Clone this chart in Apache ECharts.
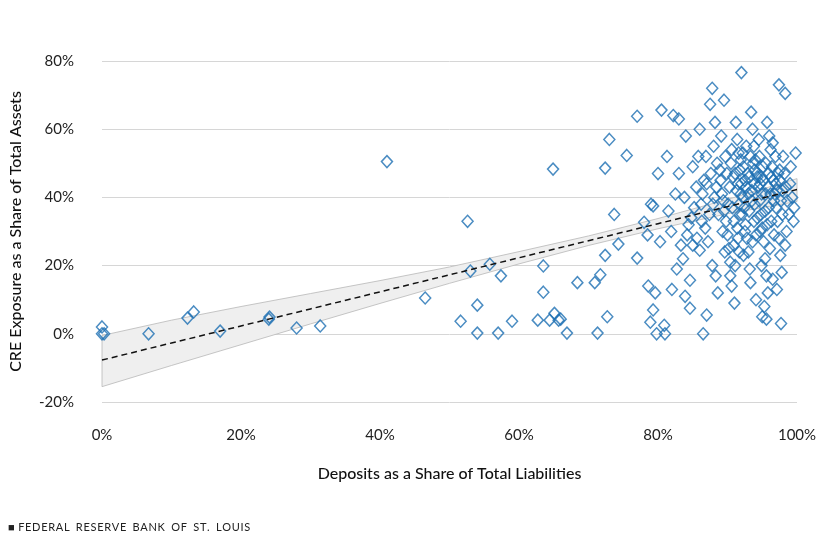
<!DOCTYPE html>
<html><head><meta charset="utf-8">
<script src="https://cdn.jsdelivr.net/npm/echarts@6/dist/echarts.min.js"></script>
<style>html,body{margin:0;background:#fff}#c{width:825px;height:546px}</style></head>
<body><div id="c"></div>
<script>
const xTicks = [0,20,40,60,80,100];
const yTicks = [-20,0,20,40,60,80];
const fitX = [0,10,20,30,40,50,60,70,80,90,100];
const fitY = [-7.7,-2.7,2.3,7.3,12.3,17.3,22.3,27.3,32.3,37.3,42.3];
const bandLow = [-15.5,-9.3,-3.2,2.9,8.9,14.8,20.5,25.9,30.8,35.2,38.8];
const bandHigh = [-0.5,4.0,8.0,11.8,15.6,19.6,24.1,28.7,33.8,39.4,45.5];
const pts = [
[0,2],[0,0],[0.3,0],[6.7,0],[12.3,4.6],[13.2,6.4],[17,0.8],[24,4.3],[24.1,4.9],[28,1.7],[31.4,2.3],
[41,50.5],[46.5,10.5],[51.6,3.7],[52.6,33],[53,18.4],[54,8.4],[54,0.2],[55.8,20.4],[57,0.2],[57.4,17],
[59,3.7],[62.7,4],[63.5,19.9],[63.5,12.2],[64.4,4],[64.9,48.3],[65.1,6],[65.7,4],[66,4.3],[66.9,0.2],
[68.4,15],[70.9,15],[71.3,0.2],[71.7,17.3],[72.4,23],[72.4,48.6],[73,57],[72.7,5],[73.7,35],[74.3,26.3],
[75.5,52.3],[77,63.8],[77,22.2],[78,32.7],[78.5,29],[79,38],[79.3,37.5],[78.6,14],[79.6,12],[80,47],
[93.4,88.8],[92,76.6],[97.4,73],[98.3,70.5],[87.8,72],[80.5,65.6],[82.2,64],[83,63],[89.5,68.5],[87.5,67.3],
[97.7,3],[95,5],[95.6,4.3],[79.8,0],[81,0],[86.5,0],[80.9,2.5],[78.9,3.4],[79.3,7],[87,5.5],[84.6,7.5],
[83.9,11],[82,13],[84.6,15.7],[83.6,22],[86,24.5],[80.3,27],[81.5,36],[82.5,41],[83,47],[81.3,52],
[84,58],[85,49],[85.5,43],[86.2,38],[86.8,31],[87.2,27],[87.8,20],[88.3,17],[88.6,12],[86,60],
[88,55],[88.5,50],[89,45],[89.2,41],[89.5,36],[89.8,33],[90,29],[90.2,25],[90.4,21],[90.6,14],
[91,9],[91.2,62],[91.4,57],[91.6,53],[91.8,48],[92,44],[92.2,40],[92.4,37],[92.6,32],[92.8,28],
[93,24],[93.2,19],[93.4,65],[93.6,60],[93.8,55],[94,51],[94.2,47],[94.4,43],[94.6,39],[94.8,35],
[95,31],[95.2,27],[95.4,22],[95.6,17],[95.8,12],[96,58],[96.2,54],[96.4,49],[96.6,45],[96.8,41],
[97,37],[97.2,33],[97.4,28],[97.6,23],[97.8,18],[98,52],[98.2,47],[98.4,43],[98.6,39],[98.8,35],
[99,44],[99.3,40],[99.6,37],[99.8,53],[90.5,50],[90.8,46],[91.3,42],[91.7,38],[92.1,35],[92.5,30],
[93.1,46],[93.5,42],[93.9,38],[94.3,34],[94.7,30],[95.1,45],[95.5,41],[95.9,37],[96.3,33],[96.7,29],
[89.1,58],[88.1,40],[87.4,35],[86.6,45],[85.8,52],[84.8,34],[84.2,29],[83.3,26],[82.7,19],[81.9,30],
[90.1,38],[90.9,33],[91.5,28],[92.3,23],[93.3,15],[94.1,10],[94.9,20],[95.3,8],[96.1,25],[96.5,16],
[97.1,13],[97.5,48],[97.9,42],[98.5,30],[99.1,49],[92.7,55],[93.7,50],[94.5,57],[95.7,62],[96.9,52],
[89.7,52],[88.9,48],[88.4,43],[87.9,38],[87,44],[86.4,41],[85.2,37],[84.4,32],[83.8,40],[85,26],
[91.9,51],[92.9,47],[93.9,44],[94.9,41],[95.9,47],[96.9,44],[97.7,39],[98.3,26],[99.5,33],[91.1,20],
[90.3,43],[91.1,47],[91.9,41],[92.7,43],[93.5,39],[94.3,46],[95.1,49],[95.9,43],[96.7,39],[97.5,45],
[90.7,37],[91.5,44],[92.3,49],[93.1,36],[93.9,48],[94.7,44],[95.5,50],[96.3,46],[97.1,42],[97.9,35],
[89.4,39],[89.9,47],[90.6,54],[91.4,31],[92.2,53],[93,41],[93.8,33],[94.6,52],[95.4,36],[96.2,41],
[88.7,35],[89.3,30],[90.9,26],[91.7,24],[92.5,45],[93.3,52],[94.1,29],[94.9,46],[95.7,32],[96.5,56],
[87.6,47],[86.9,52],[86.3,33],[85.6,28],[88.2,62],[89.6,24],[90.4,17],[91.8,35],[93.6,27],[97.3,47]
];
const chart = echarts.init(document.getElementById('c'));
const font = 'Lato, "Open Sans", sans-serif';
chart.setOption({
  animation:false,
  grid:{left:100,right:28,top:61,bottom:144},
  xAxis:{type:'value',min:0,max:100,interval:20,
    axisLine:{show:false},axisTick:{show:false},splitLine:{show:false},
    axisLabel:{formatter:v=>v+'%',fontSize:15,color:'#222',fontFamily:font,margin:26},
    name:'Deposits as a Share of Total Liabilities',nameLocation:'middle',nameGap:64,
    nameTextStyle:{fontSize:16,color:'#111',fontFamily:font,fontWeight:500}},
  yAxis:{type:'value',min:-20,max:80,interval:20,
    axisLine:{show:false},axisTick:{show:false},
    splitLine:{lineStyle:{color:'#d6d6d6'}},
    axisLabel:{formatter:v=>v+'%',fontSize:15,color:'#222',fontFamily:font,margin:28},
    name:'CRE Exposure as a Share of Total Assets',nameLocation:'middle',nameGap:78,
    nameTextStyle:{fontSize:16,color:'#111',fontFamily:font,fontWeight:500}},
  series:[
    {type:'custom',data:[0],z:1,renderItem:(params,api)=>{
      const top = fitX.map((x,i)=>api.coord([x,bandHigh[i]]));
      const bot = fitX.map((x,i)=>api.coord([x,bandLow[i]])).reverse();
      return {type:'polygon',shape:{points:top.concat(bot)},
        style:{fill:'#efefef',stroke:'#b8b8b8',lineWidth:0.8}};
    }},
    {type:'scatter',data:pts,symbol:'diamond',symbolSize:[11,12],
      itemStyle:{color:'rgba(255,255,255,0)',borderColor:'#1d6fb3',borderWidth:1.5},z:3},
    {type:'line',data:fitX.map((x,i)=>[x,fitY[i]]),symbol:'none',lineStyle:{color:'#111',width:1.5,type:[6,4]},z:4}
  ],
  graphic:[{type:'text',left:8,top:522,style:{text:'■  F E D E R A L   R E S E R V E   B A N K   O F   S T .   L O U I S'.replace(/ (?! )/g,'\u200a'),fontSize:11,fill:'#222',fontFamily:font}}]
});
</script></body></html>
